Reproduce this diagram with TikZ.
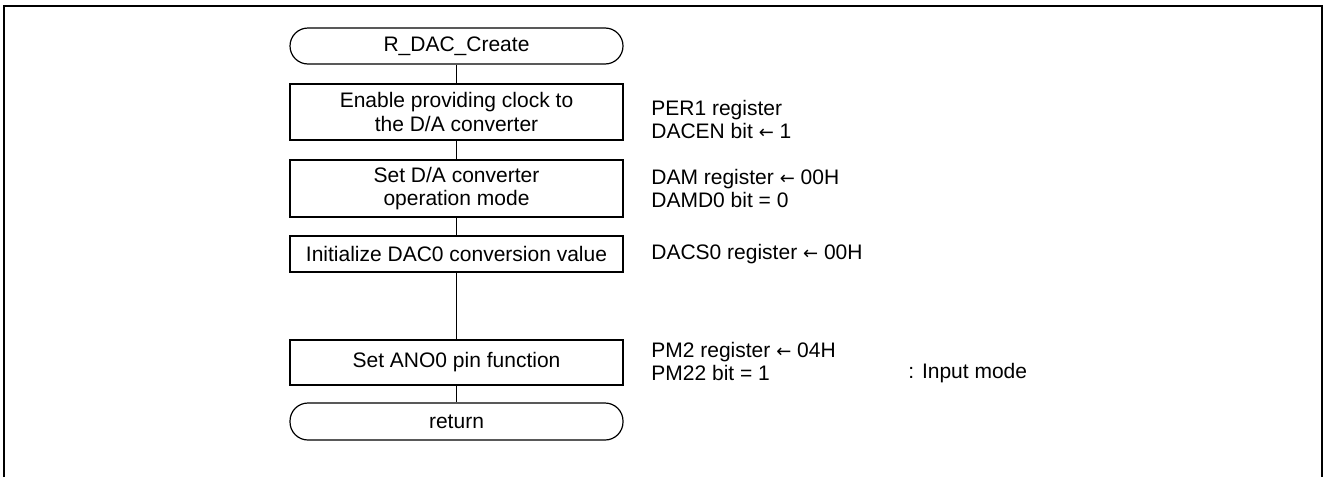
\documentclass[tikz,border=0pt]{standalone}
\usepackage{fontspec}
\setmainfont{Liberation Sans}
\newfontfamily\arrowfont{DejaVu Sans}
\usetikzlibrary{calc}
\usetikzlibrary{positioning}
\newcommand{\setto}{{\arrowfont\fontsize{9pt}{9pt}\selectfont ←}}

\begin{document}
\begin{tikzpicture}[x=0.5pt, y=-0.5pt, font=\fontsize{10.5pt}{11.6pt}\selectfont]
\tikzstyle{frame}=[line width=1.1pt]
\tikzstyle{basic}=[line width=0.6pt]
\tikzstyle{pstyle}=[draw, line width=0.6pt, minimum width=166.5pt, align=center, inner sep=0pt]
\tikzstyle{tstyle}=[draw, line width=0.6pt, rounded corners=9pt, minimum width=166.5pt, minimum height=18pt, inner sep=0pt]
\tikzstyle{note}=[anchor=west, align=left, inner sep=0pt]

\useasboundingbox (0,0) rectangle (1326,477);
\draw[frame] (4,477) -- (4,6) -- (1322,6) -- (1322,477);

\coordinate (M) at (456.5,0);

% flow
\node[tstyle] (start) at ($(M)+(0,46)$) {R\_DAC\_Create};
\node[pstyle, minimum height=28pt] (clk) at ($(M)+(0,112)$) {Enable providing clock to\\the D/A converter};
\node[pstyle, minimum height=28.5pt] (mode) at ($(M)+(0,188.5)$) {Set D/A converter\\operation mode};
\node[pstyle, minimum height=18pt] (init) at ($(M)+(0,254)$) {Initialize DAC0 conversion value};
\node[pstyle, minimum height=22.5pt] (pin) at ($(M)+(0,362.5)$) {Set ANO0 pin function};
\node[tstyle, minimum height=18.5pt] (ret) at ($(M)+(0,421.5)$) {return};

\draw[basic] (start) -- (clk);
\draw[basic] (clk) -- (mode);
\draw[basic] (mode) -- (init);
\draw[basic] (init) -- (pin);
\draw[basic] (pin) -- (ret);

% register settings
\node[note] (n1) at (651,119.5) {PER1 register\\DACEN bit \setto{} 1};
\node[note] (n2) at (651,188.5) {DAM register \setto{} 00H\\DAMD0 bit = 0};
\node[note] (n3) at (651,254) {DACS0 register \setto{} 00H};
\node[note] (n4) at (651,361.5) {PM2 register \setto{} 04H\\PM22 bit = 1};
\node[note] (n5) at (908,373) {: Input mode};
\end{tikzpicture}
\end{document}
